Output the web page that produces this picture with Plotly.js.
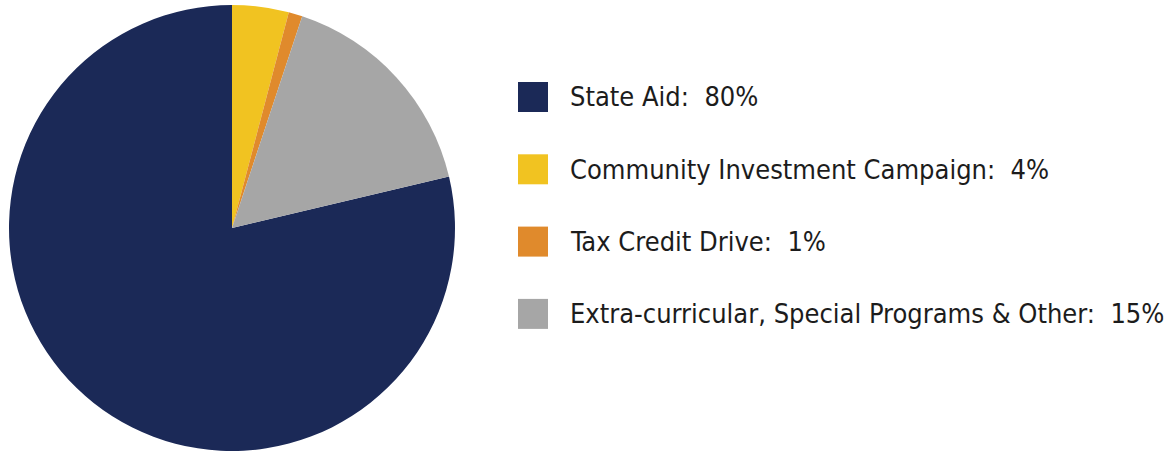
<!DOCTYPE html>
<html>
<head>
<meta charset="utf-8">
<script src="https://cdn.plot.ly/plotly-3.0.1.min.js"></script>
<style>html,body{margin:0;padding:0;background:#fff;}#chart{width:1174px;height:453px;}</style>
</head>
<body>
<div id="chart"></div>
<script>
// Data (legend order)
var labels = ["State Aid", "Community Investment Campaign", "Tax Credit Drive", "Extra-curricular, Special Programs & Other"];
var values = [78.7, 4.1, 1.0, 16.2];          // slice sizes as drawn
var pctLabels = ["80%", "4%", "1%", "15%"];     // percentages printed in the legend
var colors = ["#1b2957", "#f1c321", "#e08a2c", "#a6a6a6"];

var W = 1174, H = 453;
var cx = 232, cy = 228, r = 223;

// State Aid drawn last clockwise from 12 o'clock: start angle = share of the others
var total = values.reduce(function(a, b){ return a + b; }, 0);
var rotation = 360 * (total - values[0]) / total;

var trace = {
  type: "pie",
  labels: labels,
  values: values,
  marker: {colors: colors, line: {width: 0}},
  sort: false,
  direction: "clockwise",
  rotation: rotation,
  textinfo: "none",
  hoverinfo: "none",
  showlegend: false,
  domain: {x: [(cx - r) / W, (cx + r) / W], y: [(H - cy - r) / H, (H - cy + r) / H]}
};

var shapes = [], annotations = [];
var rowY0 = 97, rowStep = 72.3, sq = 30, sqX = 518, txtX = 568;
for (var i = 0; i < labels.length; i++) {
  var yc = rowY0 + i * rowStep;
  shapes.push({
    type: "rect", xref: "paper", yref: "paper",
    x0: sqX / W, x1: (sqX + sq) / W,
    y0: (H - yc - sq / 2) / H, y1: (H - yc + sq / 2) / H,
    fillcolor: colors[i], line: {width: 0}
  });
  annotations.push({
    xref: "paper", yref: "paper", x: txtX / W, y: (H - yc) / H,
    xanchor: "left", yanchor: "middle", showarrow: false,
    text: labels[i] + ":  " + pctLabels[i],
    font: {family: "'DejaVu Sans Condensed', 'Liberation Sans Narrow', Arial, sans-serif", size: 27, color: "#1c1c1c"}
  });
}

var layout = {
  width: W, height: H,
  margin: {l: 0, r: 0, t: 0, b: 0},
  paper_bgcolor: "#ffffff",
  plot_bgcolor: "#ffffff",
  shapes: shapes,
  annotations: annotations,
  showlegend: false
};

Plotly.newPlot("chart", [trace], layout, {displayModeBar: false, staticPlot: true});
</script>
</body>
</html>
